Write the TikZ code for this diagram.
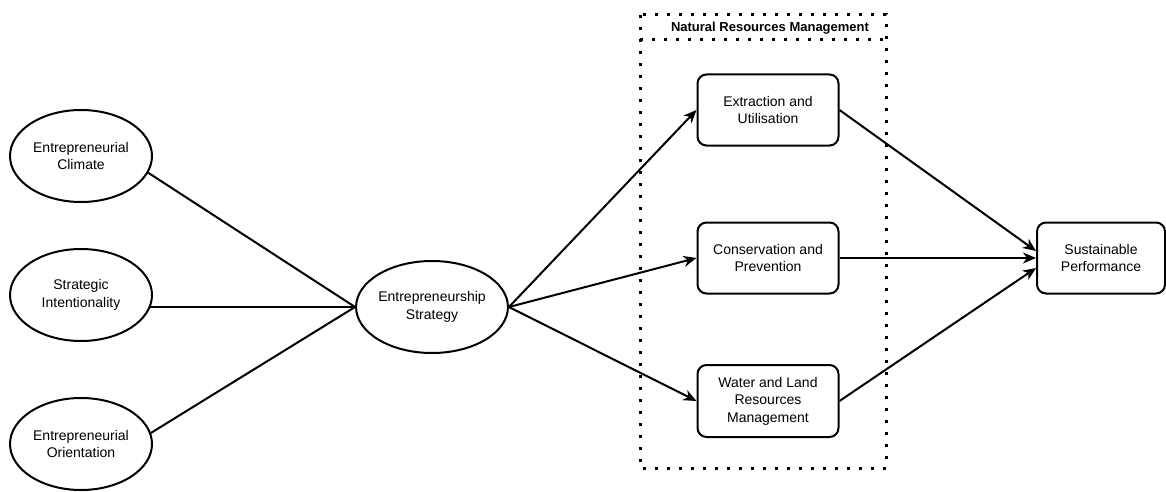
\documentclass[tikz,border=0pt]{standalone}
\usepackage{fontspec}
\setmainfont{Liberation Sans}
\usetikzlibrary{arrows.meta,shapes.geometric,calc}
\begin{document}
\begin{tikzpicture}[x=1pt,y=-1pt,
  txt/.style={font=\fontsize{14}{17.5}\selectfont, align=center},
  ell/.style={ellipse, draw, line width=2pt, minimum width=142pt, minimum height=92pt, inner sep=0pt, txt},
  rbox/.style={rectangle, rounded corners=9pt, draw, line width=2pt, minimum width=141pt, minimum height=71pt, inner sep=2pt, txt},
  conn/.style={line width=2pt},
  arr/.style={line width=2pt, -{Stealth[length=13pt,width=11pt,inset=4pt]}},
  dotbox/.style={line width=3pt, dash pattern=on 3pt off 9pt}]
\useasboundingbox (0,0) rectangle (1166,492);
\fill[white] (0,0) rectangle (1166,492);
% dotted group
\draw[dotbox] (640,15) rectangle (886,468);
\draw[dotbox] (640,40) -- (886,40);
\node[font=\bfseries\fontsize{13}{15}\selectfont] (nrm) at (770,28) {Natural Resources Management};
% nodes
\node[ell] (ec) at (81,156) {Entrepreneurial\\Climate};
\node[ell] (si) at (81,295) {Strategic\\Intentionality};
\node[ell] (eo) at (81,444) {Entrepreneurial\\Orientation};
\node[ell] (es) at (432,307) {Entrepreneurship\\Strategy};
\node[rbox] (eu) at (768,110) {Extraction and\\Utilisation};
\node[rbox] (cp) at (768,258) {Conservation and\\Prevention};
\node[rbox, minimum height=72pt] (wl) at (768,401) {Water and Land\\Resources\\Management};
\node[rbox, minimum width=128pt] (sp) at (1101,258) {Sustainable\\Performance};
\coordinate (sie) at ($(es.west -| si.east)+(-3,0)$);
% connectors
\draw[conn] (ec.-14) -- (es.west);
\draw[conn] (sie) -- (es.west);
\draw[conn] (eo.9) -- (es.west);
\draw[arr] (es.east) -- (eu.west);
\draw[arr] (es.east) -- (cp.west);
\draw[arr] (es.east) -- (wl.west);
\draw[arr] (eu.east) -- ($(sp.west)+(0,-7)$);
\draw[arr] (cp.east) -- (sp.west);
\draw[arr] (wl.east) -- ($(sp.west)+(0,10)$);
\end{tikzpicture}
\end{document}
